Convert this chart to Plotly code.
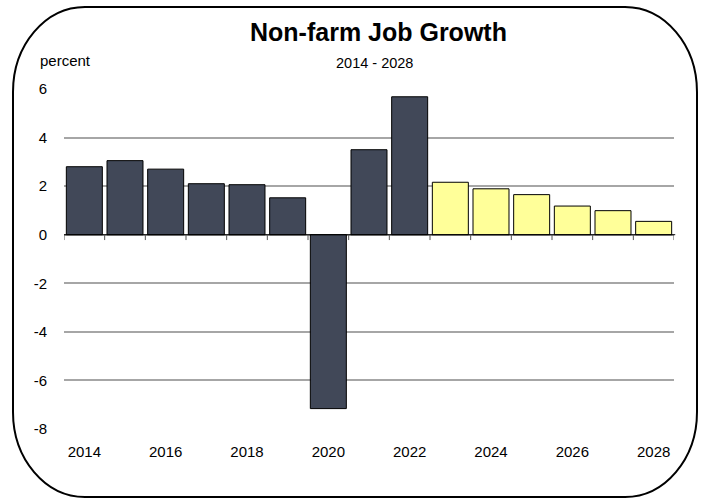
import plotly.graph_objects as go

# Annual non-farm payroll employment growth, percent
years = list(range(2014, 2029))
growth = [2.80, 3.05, 2.70, 2.10, 2.06, 1.52, -7.16, 3.50, 5.68,
          2.16, 1.89, 1.65, 1.18, 0.99, 0.55]
is_forecast = [False] * 9 + [True] * 6
label_years = list(range(2014, 2029, 2))
y_ticks = list(range(-8, 7, 2))

HIST_COLOR = "#414858"
FCST_COLOR = "#FFFF99"
FONT = "Liberation Sans, Arial, sans-serif"

W, H = 705, 500
L, R, T, B = 64, 31, 89, 71
PW, PH = W - L - R, H - T - B


def px(x):
    return (x - L) / PW


def py(y):
    return (H - B - y) / PH


fig = go.Figure()
fig.add_trace(go.Bar(
    x=years,
    y=growth,
    marker=dict(
        color=[FCST_COLOR if f else HIST_COLOR for f in is_forecast],
        line=dict(color="#000000", width=1),
    ),
    hoverinfo="x+y",
))

shapes = []
# zero line across the plot
shapes.append(dict(type="line", xref="paper", yref="y", x0=0, x1=1.002, y0=0, y1=0,
                   line=dict(color="#000000", width=1), layer="above"))
# tick marks at category boundaries hanging below the zero line
for yr in years + [years[-1] + 1]:
    shapes.append(dict(type="line", xref="x", yref="y", x0=yr - 0.5, x1=yr - 0.5,
                       y0=0, y1=-0.22, line=dict(color="#555555", width=1), layer="above"))

# rounded frame around the whole chart
x0, x1, y0, y1 = 13, 697, 7, 497
rx, ry = 72, 85
k = 0.5523
pts = [
    ("M", [(x0 + rx, y0)]),
    ("L", [(x1 - rx, y0)]),
    ("C", [(x1 - rx + k * rx, y0), (x1, y0 + ry - k * ry), (x1, y0 + ry)]),
    ("L", [(x1, y1 - ry)]),
    ("C", [(x1, y1 - ry + k * ry), (x1 - rx + k * rx, y1), (x1 - rx, y1)]),
    ("L", [(x0 + rx, y1)]),
    ("C", [(x0 + rx - k * rx, y1), (x0, y1 - ry + k * ry), (x0, y1 - ry)]),
    ("L", [(x0, y0 + ry)]),
    ("C", [(x0, y0 + ry - k * ry), (x0 + rx - k * rx, y0), (x0 + rx, y0)]),
]
path = " ".join(cmd + " " + " ".join(f"{px(a):.5f},{py(b):.5f}" for a, b in p) for cmd, p in pts) + " Z"
shapes.append(dict(type="path", xref="paper", yref="paper", path=path,
                   line=dict(color="#000000", width=2), layer="above"))

annotations = [
    dict(text="<b>Non-farm Job Growth</b>", x=px(378), y=py(32), xref="paper", yref="paper",
         showarrow=False, xanchor="center", yanchor="middle",
         font=dict(family=FONT, size=25, color="#000000")),
    dict(text="2014 - 2028", x=px(374), y=py(63), xref="paper", yref="paper",
         showarrow=False, xanchor="center", yanchor="middle",
         font=dict(family=FONT, size=14.5, color="#000000")),
    dict(text="percent", x=px(38), y=py(60), xref="paper", yref="paper",
         showarrow=False, xanchor="left", yanchor="middle",
         font=dict(family=FONT, size=15, color="#000000")),
]

fig.update_layout(
    width=W, height=H,
    margin=dict(l=L, r=R, t=T, b=B, pad=0),
    paper_bgcolor="#FFFFFF",
    plot_bgcolor="#FFFFFF",
    bargap=0.115,
    showlegend=False,
    shapes=shapes,
    annotations=annotations,
    font=dict(family=FONT, size=15, color="#000000"),
    xaxis=dict(
        range=[2013.5, 2028.5],
        tickvals=label_years,
        ticktext=[str(y) for y in label_years],
        showgrid=False, zeroline=False, showline=False, ticks="",
        ticklabelstandoff=12,
        tickfont=dict(family=FONT, size=15, color="#000000"),
        fixedrange=True,
    ),
    yaxis=dict(
        range=[-8, 6],
        tickvals=y_ticks,
        ticktext=[str(v) for v in y_ticks],
        showgrid=True, gridcolor="#A6A6A6", gridwidth=1.5,
        zeroline=False, showline=False, ticks="",
        ticklabelstandoff=16,
        tickfont=dict(family=FONT, size=15, color="#000000"),
        fixedrange=True,
    ),
)

fig.write_html("out.html")
